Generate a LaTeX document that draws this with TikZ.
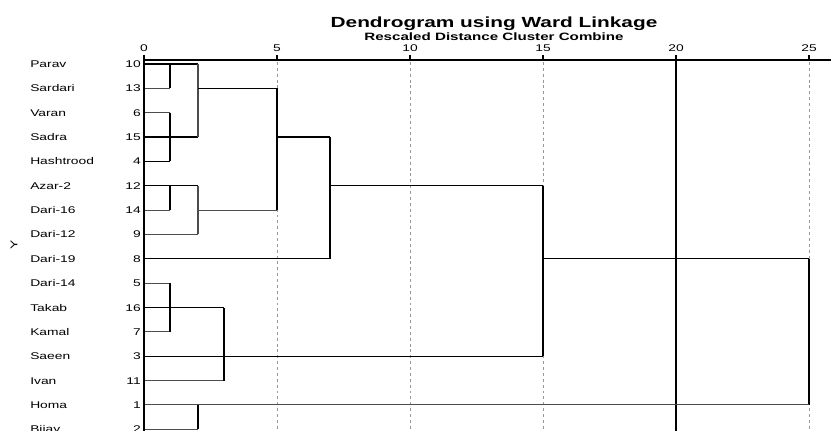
\documentclass[tikz,border=0pt]{standalone}
\usepackage{fontspec}
\setmainfont{Liberation Sans}[FakeStretch=1.42]
\begin{document}
\begin{tikzpicture}[x=0.75pt,y=-0.75pt,
  lab/.style={inner sep=0pt,font=\fontsize{7.3}{8}\selectfont},
  thk/.style={line width=1.6pt,black},
  med/.style={line width=1.0pt,black},
  thn/.style={line width=0.8pt,black!70},
  grid/.style={line width=0.75pt,black!40,dash pattern=on 2.2pt off 2.2pt},
]
\useasboundingbox (0,0) rectangle (831,430);
\clip (0,0) rectangle (831,430);
\fill[white] (0,0) rectangle (831,430);
% titles
\node[inner sep=0pt,anchor=base,font=\fontsize{11}{12}\bfseries\selectfont] (title) at (494,27) {Dendrogram using Ward Linkage};
\node[inner sep=0pt,anchor=base,font=\fontsize{8}{9}\bfseries\selectfont] (subtitle) at (494,40) {Rescaled Distance Cluster Combine};
% axis ticks & labels
\foreach \v/\xx in {0/144,5/277,10/410,15/543,20/676,25/809}{
  \node[lab,anchor=base] (t\v) at (\xx,51.5) {\v};
  \draw[med] (\xx,55) -- (\xx,60);
}
% grid
\foreach \xx in {277,410,543,809}{\draw[grid] (\xx,62) -- (\xx,432);}
\draw[line width=1.2pt] (676,60) -- (676,432);
\draw[med] (144,60) -- (831,60);
\draw[line width=2.2pt] (144,56) -- (144,432);
% Y label
\node[lab,rotate=90] (ylab) at (14,245) {Y};
% rows
\foreach \i/\nm/\num in {0/Parav/10,1/Sardari/13,2/Varan/6,3/Sadra/15,4/Hashtrood/4,5/Azar-2/12,6/Dari-16/14,7/Dari-12/9,8/Dari-19/8,9/Dari-14/5,10/Takab/16,11/Kamal/7,12/Saeen/3,13/Ivan/11,14/Homa/1,15/Bijay/2}{
  \pgfmathsetmacro{\yy}{64+\i*24.35}
  \coordinate (L\i) at (145,\yy);
  \node[lab,anchor=base west] (n\i) at (30,\yy+3.5) {\nm};
  \node[lab,anchor=base east] (c\i) at (141,\yy+3.5) {\num};
}
% cluster A
\draw[med] (L0) -- (L0 -| 198,0);
\draw[thn] (L1) -- (L1 -| 170,0);
\draw[thk] (L0 -| 170,0) -- (L1 -| 170,0);
\draw[thn] (L2) -- (L2 -| 170,0);
\draw[med] (L3) -- (L3 -| 198,0);
\draw[med] (L4) -- (L4 -| 170,0);
\draw[thk] (L2 -| 170,0) -- (L4 -| 170,0);
\draw[thn] (L0 -| 198,0) -- (L3 -| 198,0);
\draw[med] (L1 -| 198,0) -- (L1 -| 277,0);
\draw[med] (L5) -- (L5 -| 198,0);
\draw[thn] (L6) -- (L6 -| 170,0);
\draw[thk] (L5 -| 170,0) -- (L6 -| 170,0);
\draw[thn] (L7) -- (L7 -| 198,0);
\draw[thn] (L5 -| 198,0) -- (L7 -| 198,0);
\draw[thn] (L6 -| 198,0) -- (L6 -| 277,0);
\draw[med] (L1 -| 277,0) -- (L6 -| 277,0);
\draw[med] (L3 -| 277,0) -- (L3 -| 330,0);
\draw[med] (L8) -- (L8 -| 330,0);
\draw[med] (L3 -| 330,0) -- (L8 -| 330,0);
\draw[med] (L5 -| 330,0) -- (L5 -| 543,0);
% cluster B
\draw[thn] (L9) -- (L9 -| 170,0);
\draw[med] (L10) -- (L10 -| 224,0);
\draw[thn] (L11) -- (L11 -| 170,0);
\draw[thk] (L9 -| 170,0) -- (L11 -| 170,0);
\draw[med] (L12) -- (L12 -| 543,0);
\draw[thn] (L13) -- (L13 -| 224,0);
\draw[thk] (L10 -| 224,0) -- (L13 -| 224,0);
\draw[thk] (L5 -| 543,0) -- (L12 -| 543,0);
\draw[med] (L8 -| 543,0) -- (L8 -| 809,0);
\draw[med] (L8 -| 809,0) -- (L14 -| 809,0);
\draw[thn] (L14) -- (L14 -| 809,0);
\draw[thn] (L15) -- (L15 -| 198,0);
\draw[med] (L14 -| 198,0) -- (L15 -| 198,0);
\end{tikzpicture}
\end{document}
